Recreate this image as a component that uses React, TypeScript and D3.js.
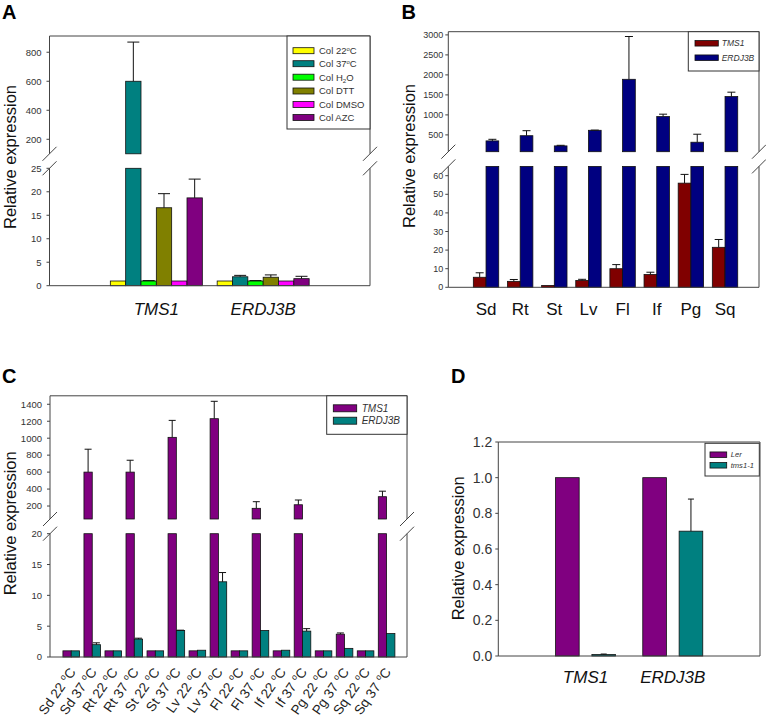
import React from "react";
import * as d3 from "d3";

const FONT = "'Liberation Sans', Arial, Helvetica, sans-serif";

// ---------- Panel A ----------
const aGenes = ["TMS1", "ERDJ3B"];
const aTreatments = ["Col 22°C", "Col 37°C", "Col H2O", "Col DTT", "Col DMSO", "Col AZC"];
const aColors = ["#ffff00", "#008080", "#00ff00", "#808000", "#ff00ff", "#800080"];
// rows: treatments; columns: genes (TMS1, ERDJ3B)
const aMeans = [
  [1, 1],
  [600, 1.9],
  [1, 1],
  [16.6, 1.8],
  [1, 1],
  [18.7, 1.5],
];
const aErrs = [
  [0, 0],
  [270, 0.3],
  [0.1, 0.1],
  [3.0, 0.5],
  [0, 0],
  [4.0, 0.5],
];
const aLowTicks = [0, 5, 10, 15, 20, 25];
const aUpTicks = [200, 400, 600, 800];

// ---------- Panel B ----------
const bTissues = ["Sd", "Rt", "St", "Lv", "Fl", "If", "Pg", "Sq"];
const bGenes = ["TMS1", "ERDJ3B"];
const bColors = ["#800000", "#000080"];
const bTMS1 = [5.4, 3.2, 1.0, 3.7, 10, 6.9, 56, 21.5];
const bTMS1Err = [2.4, 1.0, 0, 0.6, 2.2, 1.2, 4.7, 4.2];
const bERDJ3B = [350, 480, 225, 615, 1890, 958, 317, 1458];
const bERDJ3BErr = [40, 125, 15, 5, 1070, 60, 200, 110];
const bLowTicks = [0, 10, 20, 30, 40, 50, 60];
const bUpTicks = [500, 1000, 1500, 2000, 2500, 3000];

// ---------- Panel C ----------
const cConditions = [
  "Sd 22 °C", "Sd 37 °C", "Rt 22 °C", "Rt 37 °C", "St 22 °C", "St 37 °C", "Lv 22 °C", "Lv 37 °C",
  "Fl 22 °C", "Fl 37 °C", "If 22 °C", "If 37 °C", "Pg 22 °C", "Pg 37 °C", "Sq 22 °C", "Sq 37 °C",
];
const cGenes = ["TMS1", "ERDJ3B"];
const cColors = ["#800080", "#008080"];
const cTMS1 = [1, 600, 1, 600, 1, 1010, 1, 1230, 1, 173, 1, 215, 1, 3.7, 1, 310];
const cTMS1Err = [0, 270, 0, 140, 0, 200, 0, 205, 0, 78, 0, 56, 0, 0.2, 0, 65];
const cERDJ3B = [1, 2.0, 1, 2.9, 1, 4.3, 1.1, 12.2, 1, 4.3, 1.1, 4.2, 1, 1.4, 1, 3.8];
const cERDJ3BErr = [0, 0.3, 0, 0.15, 0, 0.05, 0, 1.5, 0, 0, 0, 0.4, 0, 0, 0, 0];
const cLowTicks = [0, 5, 10, 15, 20];
const cUpTicks = [200, 400, 600, 800, 1000, 1200, 1400];

// ---------- Panel D ----------
const dGenes = ["TMS1", "ERDJ3B"];
const dLines = ["Ler", "tms1-1"];
const dColors = ["#800080", "#008080"];
const dLer = [1, 1];
const dLerErr = [0, 0];
const dTms = [0.008, 0.7];
const dTmsErr = [0.003, 0.18];
const dTicks = [0, 0.2, 0.4, 0.6, 0.8, 1.0, 1.2];

type Series = { name: string; color: string; values: number[]; errs: number[] };

function rich(s: string, fs: number) {
  if (s.includes("°")) {
    const [a, b] = s.split("°");
    return [
      <tspan key="a">{a}</tspan>,
      <tspan key="o" dy={-fs * 0.38} fontSize={fs * 0.62}>o</tspan>,
      <tspan key="b" dy={fs * 0.38}>{b}</tspan>,
    ];
  }
  if (s.includes("H2O")) {
    const [a, b] = s.split("H2O");
    return [
      <tspan key="a">{a}H</tspan>,
      <tspan key="2" dy={fs * 0.28} fontSize={fs * 0.65}>2</tspan>,
      <tspan key="b" dy={-fs * 0.28}>O{b}</tspan>,
    ];
  }
  return s;
}

type PanelProps = {
  x0: number; x1: number; top: number; bottom: number;
  low: d3.ScaleLinear<number, number>; lowTicks: number[];
  up?: d3.ScaleLinear<number, number>; upTicks?: number[];
  tickFs: number; tickGap: number; tickFmt?: (v: number) => string;
  cats: string[]; center: (c: string) => number;
  inner: d3.ScaleBand<string>; series: Series[]; capW: number;
};

function Panel(p: PanelProps) {
  const { x0, x1, top, bottom, low, up, lowTicks, upTicks, tickFs, tickGap, cats, center, inner, series, capW } = p;
  const fmt = p.tickFmt || ((v: number) => String(v));
  const lowMax = low.domain()[1];
  const lowTop = low(lowMax);
  const upBottom = up ? up(up.domain()[0]) : lowTop;
  const yOf = (v: number) => (!up || v <= lowMax ? low(v) : up(v));
  const bw = inner.bandwidth();
  const stroke = "#444";
  const els: React.ReactNode[] = [];

  // bars
  cats.forEach((c, ci) => {
    series.forEach((s) => {
      const v = s.values[ci];
      const bx = center(c) + (inner(s.name) as number);
      const pieces: [number, number][] = !up || v <= lowMax
        ? [[low(v), low(0)]]
        : [[lowTop, low(0)], [up(v), upBottom]];
      pieces.forEach(([y0, y1], k) => {
        els.push(
          <rect key={`b-${c}-${s.name}-${k}`} x={bx} y={y0} width={bw} height={Math.max(0.8, y1 - y0)}
            fill={s.color} stroke="#111" strokeWidth={0.8} />
        );
      });
      const e = s.errs[ci];
      if (e > 0) {
        const cx = bx + bw / 2;
        const yTop = yOf(v);
        const yCap = yOf(v + e);
        els.push(
          <g key={`e-${c}-${s.name}`} stroke="#111" strokeWidth={1}>
            <line x1={cx} x2={cx} y1={yTop} y2={yCap} />
            <line x1={cx - capW / 2} x2={cx + capW / 2} y1={yCap} y2={yCap} />
          </g>
        );
      }
    });
  });

  // frame
  const frame: React.ReactNode[] = [];
  frame.push(<line key="t" x1={x0} x2={x1} y1={top} y2={top} />);
  frame.push(<line key="bo" x1={x0} x2={x1} y1={bottom} y2={bottom} />);
  if (up) {
    [x0, x1].forEach((x, i) => {
      frame.push(<line key={`s1${i}`} x1={x} x2={x} y1={top} y2={upBottom} />);
      frame.push(<line key={`s2${i}`} x1={x} x2={x} y1={lowTop} y2={bottom} />);
      [upBottom, lowTop].forEach((y, j) => {
        frame.push(<line key={`br${i}${j}`} x1={x - 7} x2={x + 7} y1={y + 7} y2={y - 7} />);
      });
    });
  } else {
    frame.push(<line key="l" x1={x0} x2={x0} y1={top} y2={bottom} />);
    frame.push(<line key="r" x1={x1} x2={x1} y1={top} y2={bottom} />);
  }

  // ticks
  const ticks: React.ReactNode[] = [];
  const addTick = (v: number, y: number, k: string) => {
    ticks.push(<line key={`tl${k}`} x1={x0 - 3} x2={x0} y1={y} y2={y} stroke={stroke} />);
    ticks.push(
      <text key={`tt${k}`} x={x0 - tickGap} y={y} dy="0.35em" textAnchor="end" fontSize={tickFs} fill="#333">
        {fmt(v)}
      </text>
    );
  };
  lowTicks.forEach((v) => addTick(v, low(v), `l${v}`));
  if (up && upTicks) upTicks.forEach((v) => addTick(v, up(v), `u${v}`));

  return (
    <g fontFamily={FONT}>
      {els}
      <g stroke={stroke} strokeWidth={1} fill="none">{frame}</g>
      {ticks}
    </g>
  );
}

function Legend(props: {
  x: number; y: number; w: number; h: number; items: string[]; colors: string[];
  sx: number; sw: number; sh: number; rows: number[]; tx: number; fs: number; italic: boolean;
}) {
  const { x, y, w, h, items, colors, sx, sw, sh, rows, tx, fs, italic } = props;
  return (
    <g fontFamily={FONT}>
      <rect x={x} y={y} width={w} height={h} fill="#fff" stroke="#333" strokeWidth={1} />
      {items.map((it, i) => (
        <g key={it}>
          <rect x={sx} y={rows[i] - sh / 2} width={sw} height={sh} fill={colors[i]} stroke="#111" strokeWidth={0.8} />
          <text x={tx} y={rows[i]} dy="0.36em" fontSize={fs} fill="#333" fontStyle={italic ? "italic" : "normal"}>
            {rich(it, fs)}
          </text>
        </g>
      ))}
    </g>
  );
}

function YLabel({ x, y }: { x: number; y: number }) {
  return (
    <text transform={`translate(${x},${y}) rotate(-90)`} textAnchor="middle" fontSize={16.5} fontFamily={FONT} fill="#111">
      Relative expression
    </text>
  );
}

function Letter({ x, y, t }: { x: number; y: number; t: string }) {
  return (
    <text x={x} y={y} fontSize={20} fontWeight="bold" fontFamily={FONT} fill="#000">{t}</text>
  );
}

export default function App() {
  // ----- A -----
  const aX0 = 49.5, aX1 = 370, aTop = 36, aBottom = 285.7;
  const aLow = d3.scaleLinear([0, 25], [aBottom, 168.3]);
  const aUp = d3.scaleLinear([100, 912], [153.8, aTop]);
  const aCenter = d3.scalePoint(aGenes, [aX0, aX1]).padding(1);
  const aInner = d3.scaleBand(aTreatments, [-46, 46]);
  const aSeries: Series[] = aTreatments.map((t, i) => ({
    name: t, color: aColors[i], values: aMeans[i], errs: aErrs[i],
  }));

  // ----- B -----
  const bX0 = 448.3, bX1 = 759, bTop = 31.7, bBottom = 287.3;
  const bLow = d3.scaleLinear([0, 65], [bBottom, 166.4]);
  const bUp = d3.scaleLinear([80, 3080], [151.7, bTop]);
  const bBand = d3.scaleBand(bTissues, [bX0, bX1]).paddingInner(0).paddingOuter(0.55).align(0.55);
  const bCenter = (c: string) => (bBand(c) as number) + bBand.bandwidth() / 2;
  const bInner = d3.scaleBand(bGenes, [-12.7, 12.7]);
  const bSeries: Series[] = [
    { name: "TMS1", color: bColors[0], values: bTMS1, errs: bTMS1Err },
    { name: "ERDJ3B", color: bColors[1], values: bERDJ3B, errs: bERDJ3BErr },
  ];

  // ----- C -----
  const cX0 = 50, cX1 = 407, cTop = 395.8, cBottom = 657;
  const cLow = d3.scaleLinear([0, 20], [cBottom, 533.7]);
  const cUp = d3.scaleLinear([47, 1500], [519, cTop]);
  const cBand = d3.scaleBand(cConditions, [cX0, cX1]).paddingInner(0).paddingOuter(0.49).align(0.52);
  const cCenter = (c: string) => (cBand(c) as number) + cBand.bandwidth() / 2;
  const cInner = d3.scaleBand(cGenes, [-8.3, 8.3]);
  const cSeries: Series[] = [
    { name: "TMS1", color: cColors[0], values: cTMS1, errs: cTMS1Err },
    { name: "ERDJ3B", color: cColors[1], values: cERDJ3B, errs: cERDJ3BErr },
  ];

  // ----- D -----
  const dX0 = 498.3, dX1 = 760, dTop = 442, dBottom = 656;
  const dY = d3.scaleLinear([0, 1.2], [dBottom, dTop]);
  const dCenter = d3.scalePoint(dGenes, [dX0, dX1]).padding(1);
  const dInner = d3.scaleBand(dLines, [-30, 30]).paddingInner(0.35);
  const dSeries: Series[] = [
    { name: "Ler", color: dColors[0], values: dLer, errs: dLerErr },
    { name: "tms1-1", color: dColors[1], values: dTms, errs: dTmsErr },
  ];

  return (
    <svg width={766} height={721} style={{ position: "absolute", left: 0, top: 0, background: "#fff" }}>
      <rect width={766} height={721} fill="#fff" />

      {/* A */}
      <Letter x={2} y={19} t="A" />
      <YLabel x={15.5} y={157} />
      <Panel x0={aX0} x1={aX1} top={aTop} bottom={aBottom} low={aLow} lowTicks={aLowTicks} up={aUp} upTicks={aUpTicks}
        tickFs={9.5} tickGap={8} cats={aGenes} center={(c) => aCenter(c) as number} inner={aInner} series={aSeries} capW={12} />
      {aGenes.map((g) => (
        <text key={g} x={aCenter(g)} y={315} textAnchor="middle" fontSize={17} fontStyle="italic" fontFamily={FONT} fill="#111">{g}</text>
      ))}
      <Legend x={287} y={aTop} w={aX1 - 287} h={93} items={aTreatments} colors={aColors}
        sx={293} sw={21} sh={6} rows={[50.7, 63.7, 77.2, 91, 104.5, 117.5]} tx={319} fs={9.5} italic={false} />

      {/* B */}
      <Letter x={401.5} y={19} t="B" />
      <YLabel x={415} y={156} />
      <Panel x0={bX0} x1={bX1} top={bTop} bottom={bBottom} low={bLow} lowTicks={bLowTicks} up={bUp} upTicks={bUpTicks}
        tickFs={9} tickGap={5} cats={bTissues} center={bCenter} inner={bInner} series={bSeries} capW={8} />
      {bTissues.map((t) => (
        <text key={t} x={bCenter(t)} y={315} textAnchor="middle" fontSize={17} fontFamily={FONT} fill="#111">{t}</text>
      ))}
      <Legend x={688.3} y={bTop} w={bX1 - 688.3} h={39.3} items={bGenes} colors={bColors}
        sx={695} sw={23.3} sh={5.5} rows={[43.3, 57.7]} tx={721.7} fs={8.5} italic={true} />

      {/* C */}
      <Letter x={2} y={383.3} t="C" />
      <YLabel x={15.5} y={523.3} />
      <Panel x0={cX0} x1={cX1} top={cTop} bottom={cBottom} low={cLow} lowTicks={cLowTicks} up={cUp} upTicks={cUpTicks}
        tickFs={9.5} tickGap={8} cats={cConditions} center={cCenter} inner={cInner} series={cSeries} capW={7} />
      {cConditions.map((c) => (
        <text key={c} transform={`translate(${cCenter(c) + 5},${672}) rotate(-55)`} textAnchor="end"
          fontSize={13.5} fontFamily={FONT} fill="#222">{rich(c, 13.5)}</text>
      ))}
      <Legend x={326.7} y={cTop} w={cX1 - 326.7} h={38.5} items={cGenes} colors={cColors}
        sx={333.3} sw={23.4} sh={7} rows={[408.3, 420.7]} tx={361.7} fs={10} italic={true} />

      {/* D */}
      <Letter x={451} y={383.3} t="D" />
      <YLabel x={464} y={548.3} />
      <Panel x0={dX0} x1={dX1} top={dTop} bottom={dBottom} low={dY} lowTicks={dTicks}
        tickFs={14} tickGap={6} tickFmt={d3.format(".1f")} cats={dGenes} center={(c) => dCenter(c) as number}
        inner={dInner} series={dSeries} capW={6} />
      {dGenes.map((g) => (
        <text key={g} x={dCenter(g)} y={682.7} textAnchor="middle" fontSize={17} fontStyle="italic" fontFamily={FONT} fill="#111">{g}</text>
      ))}
      <Legend x={705} y={443.3} w={54.3} h={32.7} items={dLines} colors={dColors}
        sx={710} sw={16.7} sh={5.5} rows={[454.7, 465.3]} tx={730.7} fs={7.6} italic={true} />
    </svg>
  );
}
